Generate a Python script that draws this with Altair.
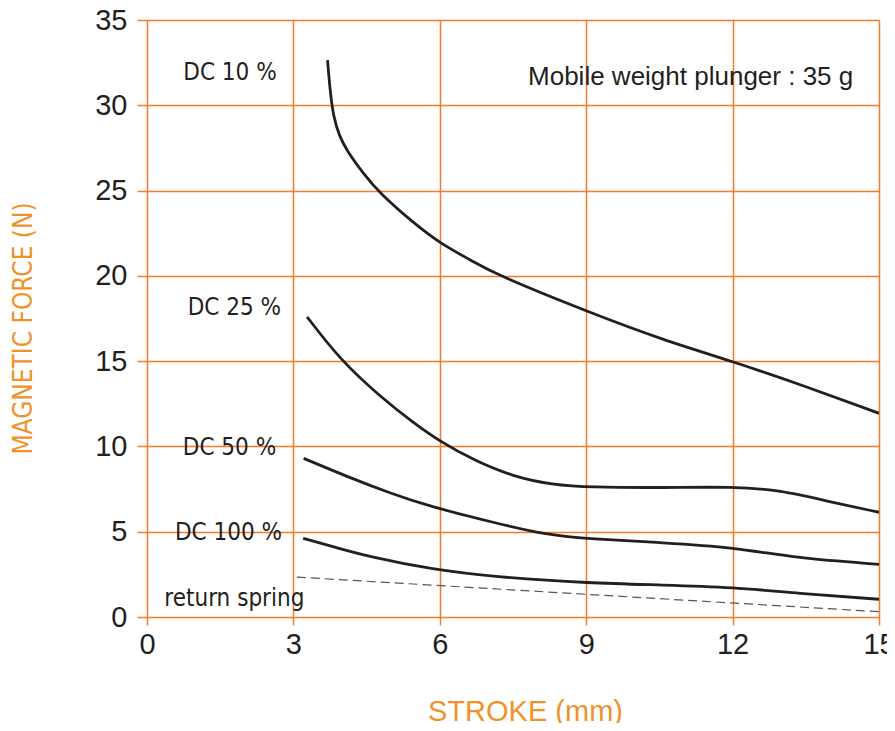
import altair as alt
import pandas as pd

# ---- data ----
dc10_x = [3.70, 3.75, 3.82, 3.94, 4.09, 4.43, 4.77, 5.47, 6.01, 6.63, 7.17, 9.08, 10.58, 12.02, 13.52, 15.0]
dc10_y = [32.65, 30.89, 29.33, 28.2, 27.37, 26.01, 24.84, 23.08, 21.9, 20.93, 20.05, 17.84, 16.24, 14.97, 13.5, 11.94]

dc25_x = [3.28, 3.96, 4.78, 5.47, 6.01, 6.69, 7.51, 8.30, 9.08, 10.58, 12.02, 12.97, 13.99, 15.0]
dc25_y = [17.6, 15.07, 12.92, 11.36, 10.28, 9.2, 8.22, 7.76, 7.6, 7.58, 7.64, 7.44, 6.76, 6.14]

dc50_x = [3.21, 4.10, 4.99, 5.80, 7.17, 8.19, 9.08, 10.58, 12.02, 13.32, 15.0]
dc50_y = [9.30, 8.23, 7.25, 6.47, 5.49, 4.81, 4.57, 4.36, 4.09, 3.44, 3.09]

dc100_x = [3.20, 3.90, 4.57, 5.80, 7.17, 9.08, 10.58, 12.02, 13.32, 15.0]
dc100_y = [4.61, 4.05, 3.53, 2.81, 2.33, 1.98, 1.88, 1.74, 1.39, 1.04]

spring_x = [3.07, 15.0]
spring_y = [2.34, 0.31]

x_ticks = [0, 3, 6, 9, 12, 15]
y_ticks = [0, 5, 10, 15, 20, 25, 30, 35]

curve_labels = ["DC 10 %", "DC 25 %", "DC 50 %", "DC 100 %", "return spring"]
curve_label_x = [1.70, 1.79, 1.69, 1.67, 1.79]
curve_label_y = [31.9, 18.1, 9.9, 4.9, 1.06]

note_text = ["Mobile weight plunger : 35 g"]
note_x = [11.14]
note_y = [31.66]

GRID = "#F47A2C"
TITLE = "#F0922A"
INK = "#231F20"
NARROW = "DejaVu Sans Condensed, Liberation Sans"

rows = []
for name, xs, ys in [("DC 10 %", dc10_x, dc10_y), ("DC 25 %", dc25_x, dc25_y),
                     ("DC 50 %", dc50_x, dc50_y), ("DC 100 %", dc100_x, dc100_y)]:
    for i, (a, b) in enumerate(zip(xs, ys)):
        rows.append({"curve": name, "stroke": a, "force": b, "order": i})
curves = pd.DataFrame(rows)
spring = pd.DataFrame({"stroke": spring_x, "force": spring_y})
labels = pd.DataFrame({"text": curve_labels, "stroke": curve_label_x, "force": curve_label_y})
note = pd.DataFrame({"text": note_text, "stroke": note_x, "force": note_y})

xscale = alt.Scale(domain=[0, 15], nice=False, zero=False)
yscale = alt.Scale(domain=[0, 35], nice=False, zero=False)

xaxis = alt.Axis(
    values=x_ticks, title="STROKE (mm)", grid=True, gridColor=GRID, gridWidth=1.5,
    tickColor=GRID, tickWidth=1.5, tickSize=8, domain=False,
    labelFont="Liberation Sans", labelFontSize=29, labelColor=INK,
    labelBaseline="middle", labelPadding=19, labelFlush=False,
    titleFont="Liberation Sans", titleFontSize=29, titleFontWeight="normal",
    titleColor=TITLE, titleX=378, titleY=94, titleBaseline="middle", titleAlign="center",
)
yaxis = alt.Axis(
    values=y_ticks, title="MAGNETIC FORCE  (N)", grid=True, gridColor=GRID, gridWidth=1.5,
    tickColor=GRID, tickWidth=1.5, tickSize=10, domain=False,
    labelFont="Liberation Sans", labelFontSize=29, labelColor=INK,
    labelPadding=10, labelFlush=False,
    titleFont=NARROW, titleFontSize=26, titleFontWeight="normal",
    titleColor=TITLE, titleX=-124, titleY=308, titleBaseline="middle", titleAlign="center",
    titleAngle=270,
)

base_x = alt.X("stroke:Q", scale=xscale, axis=xaxis)
base_y = alt.Y("force:Q", scale=yscale, axis=yaxis)

lines = alt.Chart(curves).mark_line(
    interpolate="basis", color=INK, strokeWidth=2.8, clip=True
).encode(x=base_x, y=base_y, detail="curve:N", order="order:Q")

spring_line = alt.Chart(spring).mark_line(
    color="#555555", strokeWidth=1.2, strokeDash=[9, 5]
).encode(x="stroke:Q", y="force:Q")

label_marks = alt.Chart(labels).mark_text(
    font=NARROW, fontSize=24, color=INK, align="center", baseline="middle"
).encode(x="stroke:Q", y="force:Q", text="text:N")

note_mark = alt.Chart(note).mark_text(
    font="Liberation Sans", fontSize=26, color=INK, align="center", baseline="middle"
).encode(x="stroke:Q", y="force:Q", text="text:N")

chart = alt.layer(lines, spring_line, label_marks, note_mark).properties(
    width=732, height=597,
    autosize=alt.AutoSizeParams(type="none"),
    padding={"left": 139, "top": 12, "right": 8, "bottom": 106},
).configure_view(stroke=None).configure(background="white")

chart.save("out.html", embed_options={"renderer": "svg", "actions": False})
